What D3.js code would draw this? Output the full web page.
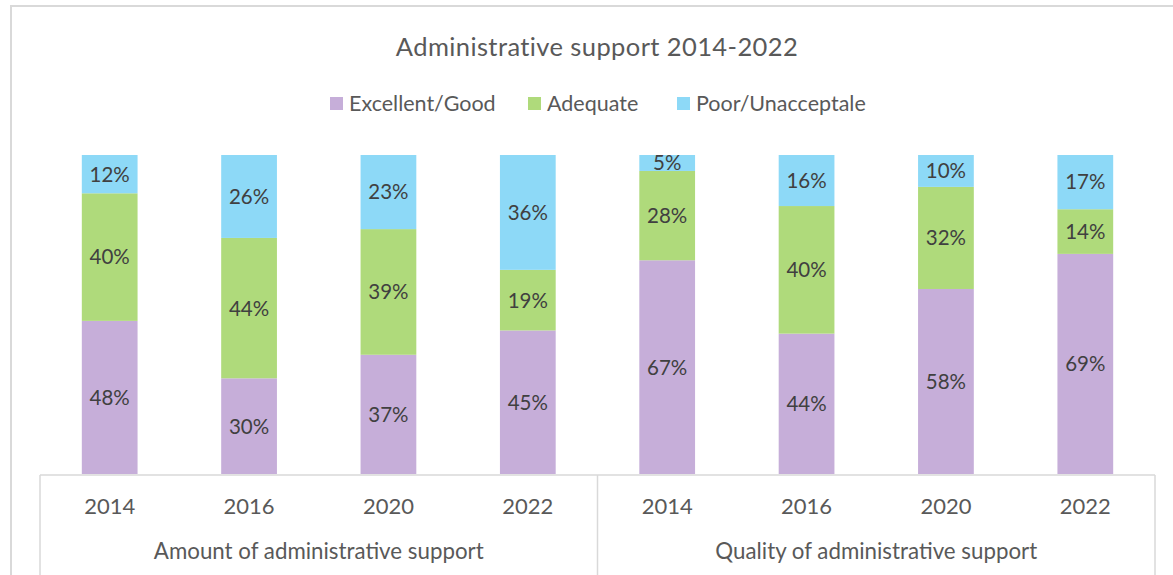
<!DOCTYPE html>
<html>
<head>
<meta charset="utf-8">
<script src="https://cdn.jsdelivr.net/npm/d3@7"></script>
<style>
  body { margin: 0; background: #fff; }
  text { font-family: Lato, "Open Sans", sans-serif; }
</style>
</head>
<body>
<div id="chart"></div>
<script>
// data
const groups = ["Amount of administrative support", "Quality of administrative support"];
const years = ["2014", "2016", "2020", "2022"];
const seriesNames = ["Excellent/Good", "Adequate", "Poor/Unacceptale"];
const excellent = [48, 30, 37, 45, 67, 44, 58, 69];
const adequate = [40, 44, 39, 19, 28, 40, 32, 14];
const poor = [12, 26, 23, 36, 5, 16, 10, 17];
const colors = ["#c6aed9", "#afda7b", "#8dd9f7"];

const W = 1173, H = 575;
const plot = { left: 40, right: 1155, top: 155, bottom: 474 };

const svg = d3.select("#chart").append("svg")
    .attr("width", W)
    .attr("height", H);

// chart frame (runs off the right / bottom of the picture)
svg.append("rect")
    .attr("x", 11).attr("y", 6)
    .attr("width", W + 20).attr("height", H + 20)
    .attr("fill", "#fff")
    .attr("stroke", "#d9d9d9")
    .attr("stroke-width", 2);

// rows for the stack
const rows = excellent.map((v, i) => ({
    key: groups[Math.floor(i / 4)] + "|" + years[i % 4],
    year: years[i % 4],
    "Excellent/Good": v,
    "Adequate": adequate[i],
    "Poor/Unacceptale": poor[i]
}));

const stack = d3.stack().keys(seriesNames).offset(d3.stackOffsetExpand);
const stacked = stack(rows);

const x = d3.scaleBand()
    .domain(rows.map(d => d.key))
    .range([plot.left, plot.right])
    .paddingInner(0.6)
    .paddingOuter(0.3);

const y = d3.scaleLinear()
    .domain([0, 1])
    .range([plot.bottom, plot.top]);

const color = d3.scaleOrdinal().domain(seriesNames).range(colors);

// bars
const layer = svg.selectAll(".layer")
    .data(stacked)
    .enter().append("g")
    .attr("class", "layer")
    .attr("fill", d => color(d.key));

layer.selectAll("rect")
    .data(d => d)
    .enter().append("rect")
    .attr("x", d => x(d.data.key))
    .attr("y", d => y(d[1]))
    .attr("width", x.bandwidth())
    .attr("height", d => y(d[0]) - y(d[1]));

// data labels
layer.selectAll("text")
    .data(d => d.map(p => ({ p: p, val: p.data[d.key] })))
    .enter().append("text")
    .attr("x", d => x(d.p.data.key) + x.bandwidth() / 2)
    .attr("y", d => (y(d.p[0]) + y(d.p[1])) / 2)
    .attr("dy", "0.36em")
    .attr("text-anchor", "middle")
    .style("font-size", "20.5px")
    .style("fill", "#404040")
    .text(d => d.val + "%");

// category axis: baseline + dividers
const axisG = svg.append("g").attr("stroke", "#d9d9d9").attr("stroke-width", 1.5);
axisG.append("line")
    .attr("x1", plot.left).attr("x2", plot.right)
    .attr("y1", plot.bottom + 1).attr("y2", plot.bottom + 1);

const step = x.step();
const dividers = [0, 4, 8].map(i => plot.left + i * step);
axisG.selectAll(".div")
    .data(dividers)
    .enter().append("line")
    .attr("x1", d => d).attr("x2", d => d)
    .attr("y1", plot.bottom + 1).attr("y2", H);

// year labels
svg.selectAll(".year")
    .data(rows)
    .enter().append("text")
    .attr("x", d => x(d.key) + x.bandwidth() / 2)
    .attr("y", 514)
    .attr("text-anchor", "middle")
    .style("font-size", "22px")
    .style("fill", "#595959")
    .text(d => d.year);

// group labels
svg.selectAll(".group")
    .data(groups)
    .enter().append("text")
    .attr("x", (d, i) => plot.left + (i * 4 + 2) * step)
    .attr("y", 559)
    .attr("text-anchor", "middle")
    .style("font-size", "22.3px")
    .style("fill", "#595959")
    .text(d => d);

// title
svg.append("text")
    .attr("x", 597)
    .attr("y", 56)
    .attr("text-anchor", "middle")
    .style("font-size", "25.5px")
    .style("letter-spacing", "0.4px")
    .style("fill", "#595959")
    .text("Administrative support 2014-2022");

// legend
const legendX = [330, 528, 677];
const legend = svg.selectAll(".legend")
    .data(seriesNames)
    .enter().append("g")
    .attr("transform", (d, i) => `translate(${legendX[i]},97)`);

legend.append("rect")
    .attr("width", 13).attr("height", 13)
    .attr("fill", d => color(d));

legend.append("text")
    .attr("x", 19)
    .attr("y", 14)
    .style("font-size", "21.5px")
    .style("fill", "#595959")
    .text(d => d);
</script>
</body>
</html>
